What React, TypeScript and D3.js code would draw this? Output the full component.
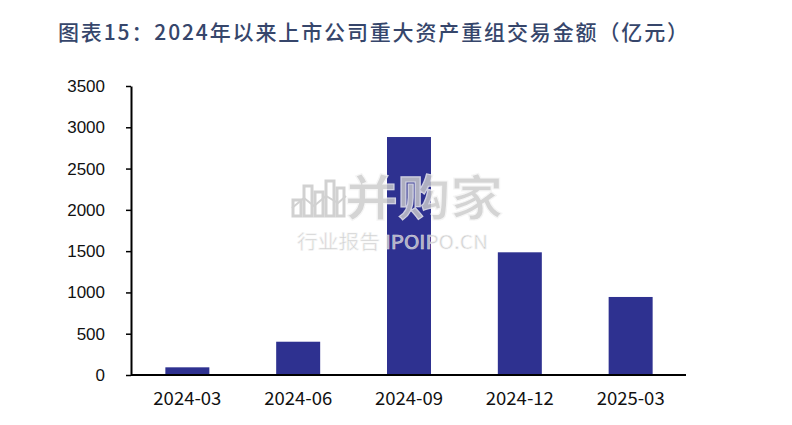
import { useEffect, useRef } from 'react';
import * as d3 from 'd3';

const title = '图表15：2024年以来上市公司重大资产重组交易金额（亿元）';
const categories = ['2024-03', '2024-06', '2024-09', '2024-12', '2025-03'];
const amounts = [93, 403, 2882, 1486, 945];
const yTicks = [0, 500, 1000, 1500, 2000, 2500, 3000, 3500];

const WIDTH = 792;
const HEIGHT = 425;
const BAR_COLOR = '#2E3190';

export default function App() {
  const svgRef = useRef<SVGSVGElement>(null);

  useEffect(() => {
    if (!svgRef.current) return;
    const svg = d3.select(svgRef.current);
    svg.selectAll('*').remove();

    const xScale = d3.scaleBand<string>()
      .domain(categories)
      .range([132, 686])
      .paddingInner(0.603)
      .paddingOuter(0.301);

    const yScale = d3.scaleLinear()
      .domain([0, 3500])
      .range([375, 86]);

    // title
    svg.append('text')
      .attr('x', 58)
      .attr('y', 40)
      .attr('font-family', '"Noto Sans CJK SC", sans-serif')
      .attr('font-weight', 500)
      .attr('font-size', 21)
      .attr('fill', '#36466B')
      .attr('textLength', 630)
      .attr('lengthAdjust', 'spacing')
      .text(title);

    // bars
    svg.append('g')
      .selectAll('rect')
      .data(categories)
      .enter().append('rect')
      .attr('x', d => xScale(d) || 0)
      .attr('y', (_, i) => yScale(amounts[i]))
      .attr('width', xScale.bandwidth())
      .attr('height', (_, i) => yScale(0) - yScale(amounts[i]))
      .attr('fill', BAR_COLOR);

    // watermark
    const wm = svg.append('g').attr('opacity', 0.82);
    const icon = wm.append('g')
      .attr('fill', 'none')
      .attr('stroke', '#c8c8c8')
      .attr('stroke-width', 3);
    [[293, 200, 8, 16], [304, 186, 8, 30], [315, 192, 8, 24], [326, 181, 8, 35], [337, 188, 7, 28]]
      .forEach(([x, y, w, h]) => {
        icon.append('rect').attr('x', x).attr('y', y).attr('width', w).attr('height', h);
      });
    icon.append('polyline')
      .attr('points', '292,208 304,198 314,206 326,196 338,203 346,196')
      .attr('stroke-width', 2);

    wm.append('text')
      .attr('x', 345)
      .attr('y', 215)
      .attr('font-family', '"Noto Sans CJK SC", sans-serif')
      .attr('font-weight', 700)
      .attr('font-size', 48)
      .attr('fill', '#cbcbcb')
      .attr('stroke', '#f4f4f4')
      .attr('stroke-width', 1.2)
      .attr('textLength', 158)
      .attr('lengthAdjust', 'spacingAndGlyphs')
      .text('并购家');

    wm.append('text')
      .attr('x', 297)
      .attr('y', 249)
      .attr('font-family', '"Noto Sans CJK SC", sans-serif')
      .attr('font-size', 19)
      .attr('fill', '#c6c6c6')
      .attr('stroke', '#f4f4f4')
      .attr('stroke-width', 0.6)
      .attr('textLength', 191)
      .attr('lengthAdjust', 'spacingAndGlyphs')
      .text('行业报告 IPOIPO.CN');

    // y axis
    const yAxis = svg.append('g')
      .attr('transform', 'translate(131,0)')
      .call(d3.axisLeft(yScale).tickValues(yTicks).tickSize(5).tickSizeOuter(0).tickPadding(21).tickFormat(d3.format('d')));
    yAxis.select('.domain').attr('stroke', '#000').attr('stroke-width', 2);
    yAxis.selectAll('.tick line').attr('stroke', '#000').attr('stroke-width', 1.5);
    yAxis.selectAll('text')
      .attr('font-family', '"Liberation Sans", Arial, sans-serif')
      .attr('font-size', 17)
      .attr('fill', '#111');

    // x axis
    const xAxis = svg.append('g')
      .attr('transform', 'translate(0,375)')
      .call(d3.axisBottom(xScale).tickSize(0).tickSizeOuter(0));
    xAxis.select('.domain')
      .attr('d', 'M131,0H686')
      .attr('stroke', '#000')
      .attr('stroke-width', 2);
    xAxis.selectAll('text')
      .attr('y', 30)
      .attr('dy', null)
      .attr('font-family', '"Noto Sans CJK SC", sans-serif')
      .attr('font-size', 18)
      .attr('fill', '#111')
      .attr('textLength', 68)
      .attr('lengthAdjust', 'spacingAndGlyphs');
  }, []);

  return (
    <svg
      ref={svgRef}
      width={WIDTH}
      height={HEIGHT}
      style={{ position: 'absolute', left: 0, top: 0, background: '#fff' }}
    />
  );
}
